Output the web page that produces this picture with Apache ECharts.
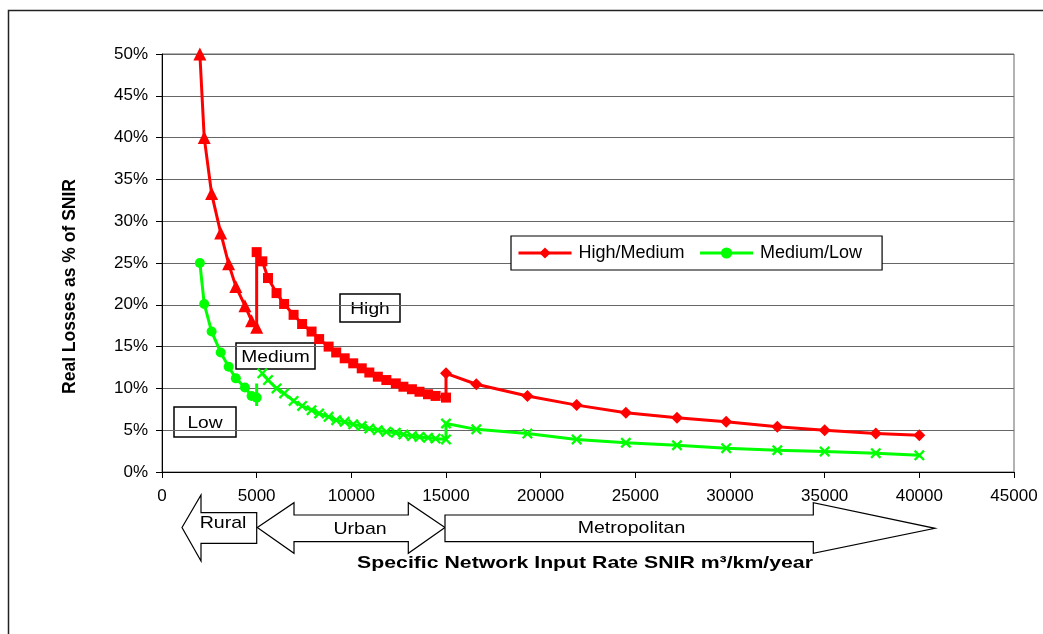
<!DOCTYPE html>
<html><head><meta charset="utf-8">
<script src="https://cdn.jsdelivr.net/npm/echarts@6/dist/echarts.min.js"></script>
<style>html,body{margin:0;padding:0;background:#fff}#c{width:1043px;height:634px}</style>
</head><body><div id="c"></div>
<script>
// ---- data ----
const xTicks = [0,5000,10000,15000,20000,25000,30000,35000,40000,45000];
const yTicks = [0,5,10,15,20,25,30,35,40,45,50];

// High/Medium curve: triangle section (rural), square section (urban), diamond section (metropolitan)
const triX = [2000,2230,2620,3100,3520,3900,4380,4730,5000];
const triY = [50,40,33.3,28.6,24.9,22.2,19.9,18.1,17.3];
const sqX  = [5000,5300,5600,6050,6450,6950,7400,7900,8300,8800,9200,9650,10100,10550,10950,11400,11850,12350,12750,13200,13600,14050,14450,15000];
const sqY  = [26.3,25.2,23.2,21.4,20.1,18.8,17.7,16.8,15.9,15.0,14.3,13.6,13.0,12.4,11.9,11.4,11.0,10.6,10.2,9.9,9.6,9.3,9.1,8.9];
const diaX = [15000,16600,19300,21900,24500,27200,29800,32500,35000,37700,40000];
const diaY = [11.8,10.5,9.1,8.0,7.1,6.5,6.0,5.4,5.0,4.6,4.4];

// Medium/Low curve: circle section, step at 5000, cross sections
const circX = [2000,2230,2620,3100,3520,3900,4380,4730,5000];
const circY = [25,20.1,16.8,14.3,12.6,11.2,10.1,9.1,8.9];
const stepX = [5000,5000];
const stepY = [10.6,7.9];
const crossX = [5300,5600,6050,6450,6950,7400,7900,8300,8800,9200,9650,10100,10550,10950,11400,11850,12350,12750,13200,13600,14050,14450,15000,
                15000,16600,19300,21900,24500,27200,29800,32500,35000,37700,40000];
const crossY = [11.8,11.0,10.0,9.4,8.5,7.9,7.4,7.0,6.6,6.2,6.0,5.7,5.5,5.2,5.0,4.8,4.7,4.5,4.3,4.2,4.1,4.0,3.9,
                5.8,5.1,4.6,3.9,3.5,3.2,2.85,2.6,2.45,2.25,2.0];

const seriesNames = ['High/Medium','Medium/Low'];
const zoneLabels = ['High','Medium','Low'];
const areaLabels = ['Rural','Urban','Metropolitan'];
const xTitle = 'Specific Network Input Rate SNIR m\u00b3/km/year';
const yTitle = 'Real Losses as % of SNIR';

// ---- build ----
const FONT = '"Liberation Sans", Arial, sans-serif';
const RED = '#ff0000', GREEN = '#00ff00';
const CROSS = 'path://M0,1.5L1.5,0L5,3.5L8.5,0L10,1.5L6.5,5L10,8.5L8.5,10L5,6.5L1.5,10L0,8.5L3.5,5Z';

function pts(xs, ys, sym, size){
  return xs.map((x,i)=>({value:[x,ys[i]], symbol:sym, symbolSize:size}));
}
const redData = [].concat(pts(triX,triY,'triangle',13), pts(sqX,sqY,'rect',10), pts(diaX,diaY,'diamond',12));
const greenCirc = pts(circX,circY,'circle',10);
const greenCross = pts(crossX,crossY,CROSS,11);

const chart = echarts.init(document.getElementById('c'), null, {renderer:'canvas'});

function label(cx, cy, text, size, sx, bold){
  return {type:'text', x:cx, y:cy, scaleX:sx, originX:0, originY:0,
    style:{x:0, y:0, text:text, align:'center', verticalAlign:'middle',
      font:(bold?'bold ':'')+size+'px '+FONT, fill:'#000'}};
}
function box(cx, cy, w, h, text){
  return {
    type:'group', children:[
      {type:'rect', shape:{x:cx-w/2, y:cy-h/2, width:w, height:h}, style:{fill:'#fff', stroke:'#000', lineWidth:1.5}},
      label(cx, cy+1, text, 17, 1.13, false)
    ]
  };
}
function poly(points){
  return {type:'polygon', shape:{points:points}, style:{fill:'#fff', stroke:'#000', lineWidth:1.2}};
}

chart.setOption({
  animation:false,
  backgroundColor:'#fff',
  textStyle:{fontFamily:FONT},
  grid:{left:162, right:29, top:54, bottom:162, show:true, borderColor:'#666', borderWidth:1, backgroundColor:'transparent'},
  legend:{
    data:seriesNames, left:511, top:236,
    backgroundColor:'#fff', borderColor:'#000', borderWidth:1.2,
    padding:[8,20,8,6], itemGap:14, itemWidth:53, itemHeight:14,
    lineStyle:{width:3},
    textStyle:{fontSize:18, fontFamily:FONT, color:'#000', padding:[0,0,0,2]}
  },
  xAxis:{
    type:'value', min:0, max:45000, interval:5000,
    axisLine:{show:true, onZero:false, lineStyle:{color:'#000', width:1}},
    axisTick:{show:true, length:6, lineStyle:{color:'#000'}},
    axisLabel:{margin:16, fontSize:17, color:'#000', fontFamily:FONT,
      formatter:v=>xTicks.indexOf(v)>=0?String(v):''},
    splitLine:{show:false}
  },
  yAxis:{
    type:'value', min:0, max:50, interval:5,
    axisLine:{show:true, lineStyle:{color:'#000', width:1}},
    axisTick:{show:true, length:6, lineStyle:{color:'#000'}},
    axisLabel:{margin:14, fontSize:17, color:'#000', fontFamily:FONT,
      formatter:v=>yTicks.indexOf(v)>=0?v+'%':''},
    splitLine:{show:true, lineStyle:{color:'#666', width:1}}
  },
  series:[
    {name:seriesNames[1], type:'line', data:greenCirc, symbol:'circle', symbolSize:10,
     lineStyle:{color:GREEN, width:3}, itemStyle:{color:GREEN}, z:3},
    {name:'step', type:'line', data:stepX.map((x,i)=>[x,stepY[i]]), showSymbol:false, symbol:'none',
     lineStyle:{color:GREEN, width:3}, itemStyle:{color:GREEN}, z:3},
    {name:seriesNames[1], type:'line', data:greenCross, symbol:CROSS, symbolSize:11,
     lineStyle:{color:GREEN, width:3}, itemStyle:{color:GREEN}, z:3},
    {name:seriesNames[0], type:'line', data:redData, symbol:'diamond', symbolSize:12,
     lineStyle:{color:RED, width:3}, itemStyle:{color:RED}, z:4}
  ],
  graphic:[
    // outer chart-area frame
    {type:'rect', shape:{x:8.5, y:10.5, width:1100, height:700}, style:{fill:'none', stroke:'#222', lineWidth:1.5}, z:-1},
    // zone label boxes
    box(370, 308, 60, 28, zoneLabels[0]),
    box(275.5, 356, 79, 26, zoneLabels[1]),
    box(205, 422, 62, 30, zoneLabels[2]),
    // Rural arrow (left pointing)
    poly([[182,527.5],[201,495],[201,512.7],[256.7,512.7],[256.7,543.3],[201,543.3],[201,561]]),
    // Urban arrow (double)
    poly([[257.3,527.5],[294,502.7],[294,515],[408.3,515],[408.3,502.7],[445,527.5],[408.3,553.3],[408.3,541.7],[294,541.7],[294,553.3]]),
    // Metropolitan arrow (right pointing)
    poly([[445,515],[813.3,515],[813.3,502.7],[935,528.3],[813.3,553.3],[813.3,541.7],[445,541.7]]),
    label(223, 523.5, areaLabels[0], 17, 1.15, false),
    label(360, 529.5, areaLabels[1], 17, 1.15, false),
    label(631.5, 528, areaLabels[2], 17, 1.15, false),
    // axis titles
    label(585, 563.5, xTitle, 17, 1.25, true),
    {type:'text', rotation:Math.PI/2, x:70, y:286.5, scaleY:1.1,
     style:{x:0, y:0, text:yTitle, align:'center', verticalAlign:'middle', font:'bold 17.5px '+FONT, fill:'#000'}}
  ]
});
</script></body></html>
